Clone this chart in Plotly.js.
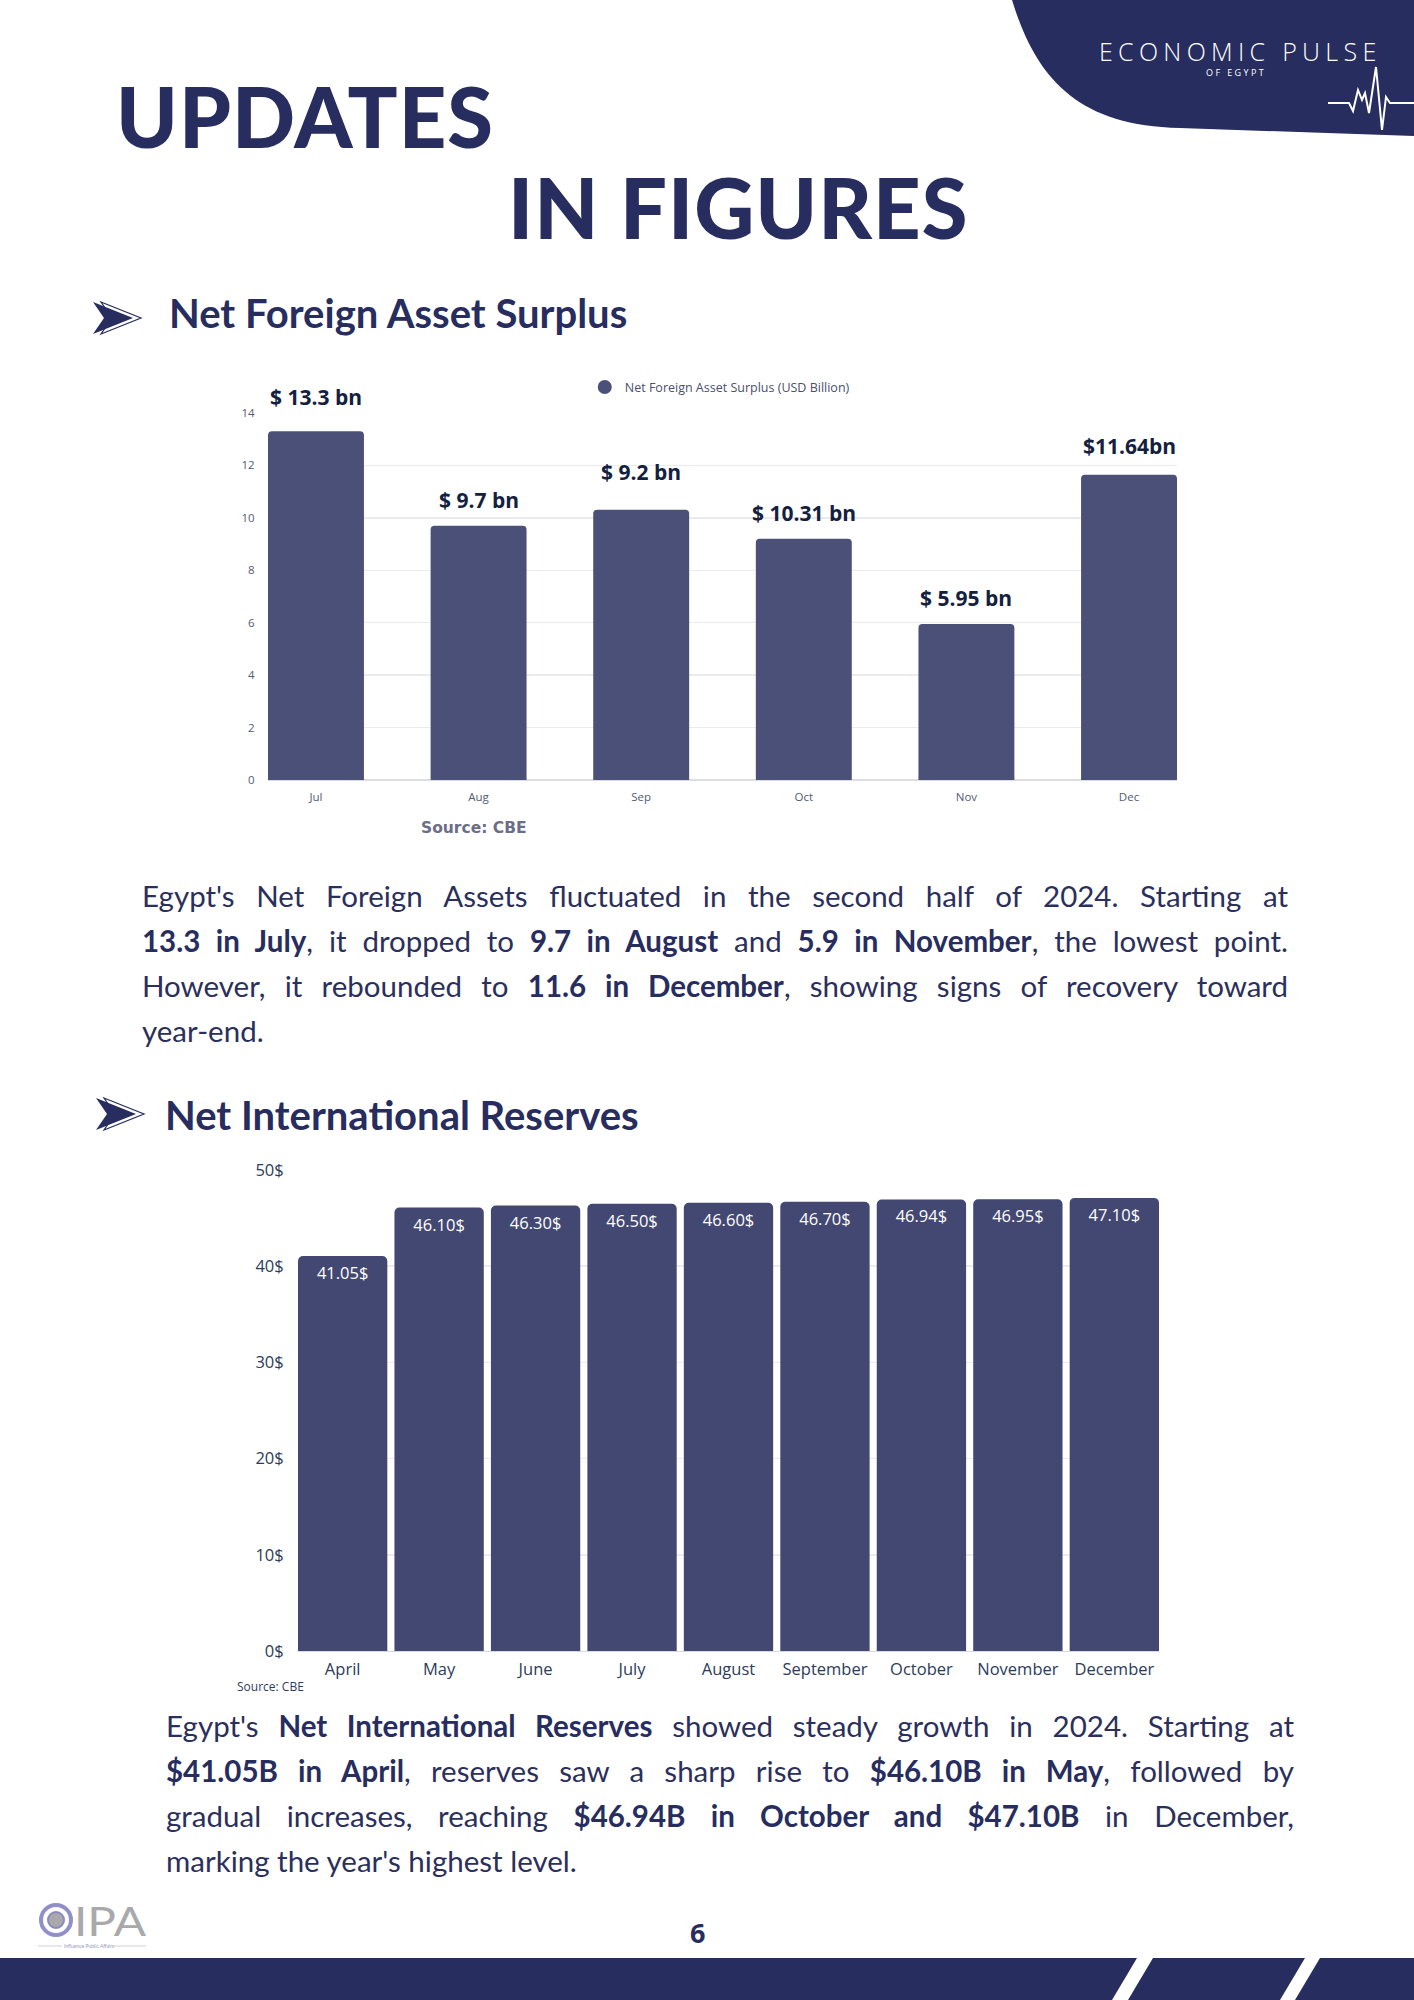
<!DOCTYPE html>
<html>
<head>
<meta charset="utf-8">
<script src="https://cdn.plot.ly/plotly-3.0.1.min.js"></script>
<style>
  html, body { margin:0; padding:0; background:#ffffff; }
  #page { position:relative; width:1414px; height:2000px; overflow:hidden; background:#fff; font-family:"Lato","Open Sans",sans-serif; }
  .abs { position:absolute; }
  .big { font-family:"Lato","Open Sans",sans-serif; font-weight:900; color:#272d5e; font-size:83px; line-height:1; letter-spacing:1px; }
  .sect { font-family:"Lato","Open Sans",sans-serif; font-weight:700; color:#272d5e; font-size:40px; line-height:1; white-space:nowrap; }
  .para div { text-align:justify; text-align-last:justify; font-size:29.5px; line-height:45px; color:#2b2f5c; font-weight:400; white-space:nowrap; }
  .para div.last { text-align-last:left; }
  .para b { font-weight:700; color:#272d5e; }
</style>
</head>
<body>
<div id="page">
  <svg class="abs" style="left:0;top:0" width="1414" height="2000">
    <path d="M1012,0 C1035,75 1075,126 1180,128 L1414,136 L1414,0 Z" fill="#272d5e"/>
    <polyline points="1328,103 1349,103 1353,111 1358,90 1362,100 1365,93 1369,113 1376,67 1382,130 1386,97 1390,103 1414,103" fill="none" stroke="#ffffff" stroke-width="2"/>
    <path d="M101,302 L141,318 L101,334 L112,318 Z" fill="#ffffff" stroke="#272d5e" stroke-width="1.2"/>
    <path d="M93,302 L133,318 L93,334 L104,318 Z" fill="#272d5e"/>
    <path d="M104,1098 L144,1114 L104,1130 L115,1114 Z" fill="#ffffff" stroke="#272d5e" stroke-width="1.2"/>
    <path d="M96,1098 L136,1114 L96,1130 L107,1114 Z" fill="#272d5e"/>
    <path d="M0,1958 L1137,1958 L1112,2000 L0,2000 Z" fill="#272d5e"/>
    <path d="M1153,1958 L1305,1958 L1280,2000 L1128,2000 Z" fill="#272d5e"/>
    <path d="M1320,1958 L1414,1958 L1414,2000 L1295,2000 Z" fill="#272d5e"/>
    <!-- IPA logo -->
    <circle cx="56" cy="1920" r="15" fill="none" stroke="#9090c6" stroke-width="4"/>
    <circle cx="56" cy="1920" r="8" fill="#a9a9ab" stroke="#8a8ac0" stroke-width="2"/>
    <text x="74" y="1936" font-family="Lato, sans-serif" font-size="40" fill="#a9a9ab" font-weight="400" textLength="72" lengthAdjust="spacingAndGlyphs">IPA</text>
    <line x1="38" y1="1946" x2="62" y2="1946" stroke="#b0b0c8" stroke-width="0.6"/>
    <text x="64" y="1948" font-family="Lato, sans-serif" font-size="5" fill="#9a9ac0">Influence Public Affairs</text>
    <line x1="114" y1="1946" x2="146" y2="1946" stroke="#b0b0c8" stroke-width="0.6"/>
  </svg>

  <div class="abs" style="left:1099px;top:34px;color:#fff;font-family:'Open Sans',sans-serif;font-weight:300;font-size:25px;letter-spacing:5.3px;white-space:nowrap;">ECONOMIC PULSE</div>
  <div class="abs" style="left:1206px;top:66px;color:#fff;font-family:'Open Sans',sans-serif;font-size:9px;letter-spacing:2.4px;white-space:nowrap;">OF EGYPT</div>

  <div class="abs big" style="left:116px;top:75px;">UPDATES</div>
  <div class="abs big" style="left:508px;top:166px;">IN FIGURES</div>

  <div class="abs sect" style="left:169px;top:293px;">Net Foreign Asset Surplus</div>
  <div class="abs sect" style="left:165px;top:1095px;">Net International Reserves</div>

  <div id="chart1" class="abs" style="left:150px;top:360px;width:1100px;height:480px;"></div>
  <div id="chart2" class="abs" style="left:150px;top:1140px;width:1100px;height:560px;"></div>

  <div class="abs para" style="left:142px;top:873px;width:1146px;">
    <div>Egypt's Net Foreign Assets fluctuated in the second half of 2024. Starting at</div>
    <div><b>13.3 in July</b>, it dropped to <b>9.7 in August</b> and <b>5.9 in November</b>, the lowest point.</div>
    <div>However, it rebounded to <b>11.6 in December</b>, showing signs of recovery toward</div>
    <div class="last">year-end.</div>
  </div>

  <div class="abs para" style="left:166px;top:1703px;width:1128px;">
    <div>Egypt's <b>Net International Reserves</b> showed steady growth in 2024. Starting at</div>
    <div><b>$41.05B in April</b>, reserves saw a sharp rise to <b>$46.10B in May</b>, followed by</div>
    <div>gradual increases, reaching <b>$46.94B in October and $47.10B</b> in December,</div>
    <div class="last">marking the year's highest level.</div>
  </div>

  <div class="abs" style="left:690px;top:1914px;font-family:'Open Sans',sans-serif;font-weight:700;font-size:27px;color:#272d5e;">6</div>
</div>

<script>
// ---------- Data: Net Foreign Asset Surplus ----------
var nfaMonths = ["Jul", "Aug", "Sep", "Oct", "Nov", "Dec"];
var nfaValues = [13.3, 9.7, 10.31, 9.2, 5.95, 11.64];
var nfaLabels = ["$ 13.3 bn", "$ 9.7 bn", "$ 9.2 bn", "$ 10.31 bn", "$ 5.95 bn", "$11.64bn"];
var nfaSeriesName = "Net Foreign Asset Surplus (USD Billion)";
var nfaTicks = [0, 2, 4, 6, 8, 10, 12, 14];

// ---------- Data: Net International Reserves ----------
var nirMonths = ["April", "May", "June", "July", "August", "September", "October", "November", "December"];
var nirValues = [41.05, 46.10, 46.30, 46.50, 46.60, 46.70, 46.94, 46.95, 47.10];
var nirTicks = [0, 10, 20, 30, 40, 50];

// styling (label lift in px above bar top, as in reference)
var nfaLabelLift = [20, 12, 24, 12, 12, 15];

var tickFontFamily = "Open Sans, sans-serif";

// ---------- Chart 1 ----------
var nfaAnnotations = nfaMonths.map(function (m, i) {
  return {
    x: m, y: nfaValues[i], xref: "x", yref: "y",
    text: nfaLabels[i], showarrow: false, yanchor: "bottom",
    yshift: nfaLabelLift[i] - 2,
    font: { family: "Open Sans, sans-serif", size: 21, color: "#13213f", weight: 700 }
  };
});
nfaAnnotations.push({
  xref: "paper", yref: "paper", x: 0.2266, xanchor: "center", y: -0.16, showarrow: false,
  text: "<b>Source: CBE</b>",
  font: { family: "DejaVu Sans, sans-serif", size: 15.5, color: "#6b6e86" }
});

Plotly.newPlot("chart1", [
  {
    type: "bar", x: nfaMonths, y: nfaValues, showlegend: false,
    marker: { color: "#4b5078", cornerradius: 4 }, hoverinfo: "none"
  },
  {
    type: "scatter", mode: "markers", x: [null], y: [null], name: nfaSeriesName,
    marker: { color: "#4b5078", size: 14, symbol: "circle" }
  }
], {
  width: 1100, height: 480,
  margin: { l: 118, r: 73, t: 45, b: 60, pad: 0 },
  paper_bgcolor: "rgba(0,0,0,0)", plot_bgcolor: "rgba(0,0,0,0)",
  bargap: 0.41,
  showlegend: true,
  legend: {
    orientation: "h", x: 0.497, xanchor: "center", y: 1.07, yanchor: "middle",
    font: { family: tickFontFamily, size: 12.5, color: "#4a4f6e" }, itemwidth: 30
  },
  xaxis: {
    type: "category", range: [-0.295, 5.295], showgrid: false, zeroline: false,
    showline: false, ticks: "outside", ticklen: 6, tickcolor: "rgba(0,0,0,0)",
    tickfont: { family: tickFontFamily, size: 11.5, color: "#555a70" }
  },
  yaxis: {
    range: [0, 14], tickmode: "array", tickvals: nfaTicks, showgrid: true, gridcolor: "#ebebef", gridwidth: 1.5,
    zeroline: true, zerolinecolor: "#dcdce4", zerolinewidth: 1.5,
    ticks: "outside", ticklen: 10, tickcolor: "rgba(0,0,0,0)",
    tickfont: { family: tickFontFamily, size: 11.5, color: "#555a70" }
  },
  annotations: nfaAnnotations
}, { staticPlot: true, displayModeBar: false });

// ---------- Chart 2 ----------
Plotly.newPlot("chart2", [
  {
    type: "bar", x: nirMonths, y: nirValues,
    text: nirValues.map(function (v) { return v.toFixed(2) + "$"; }),
    textposition: "inside", insidetextanchor: "end", textangle: 0, constraintext: "none",
    textfont: { family: tickFontFamily, size: 16.5, color: "#ffffff" },
    marker: { color: "#434873", cornerradius: 5 }, hoverinfo: "none", showlegend: false
  }
], {
  width: 1100, height: 560,
  margin: { l: 148, r: 91, t: 30, b: 49, pad: 0 },
  paper_bgcolor: "rgba(0,0,0,0)", plot_bgcolor: "rgba(0,0,0,0)",
  bargap: 0.074,
  xaxis: {
    type: "category", range: [-0.463, 8.463], showgrid: false, zeroline: false,
    ticks: "outside", ticklen: 3, tickcolor: "rgba(0,0,0,0)",
    tickfont: { family: tickFontFamily, size: 16.5, color: "#2c3b5b" }
  },
  yaxis: {
    range: [0, 50], tickmode: "array", tickvals: nirTicks,
    ticktext: nirTicks.map(function (v) { return v + "$"; }),
    showgrid: true, gridcolor: "#ebebf1", gridwidth: 1.5,
    zeroline: true, zerolinecolor: "#d8d8e0",
    ticks: "outside", ticklen: 10, tickcolor: "rgba(0,0,0,0)",
    tickfont: { family: tickFontFamily, size: 16.5, color: "#2c3b5b" }
  },
  annotations: [{
    xref: "paper", yref: "paper", x: -0.073, y: -0.096, xanchor: "left", showarrow: false,
    text: "Source: CBE",
    font: { family: tickFontFamily, size: 12, color: "#2c3b5b" }
  }]
}, { staticPlot: true, displayModeBar: false });
</script>
</body>
</html>
